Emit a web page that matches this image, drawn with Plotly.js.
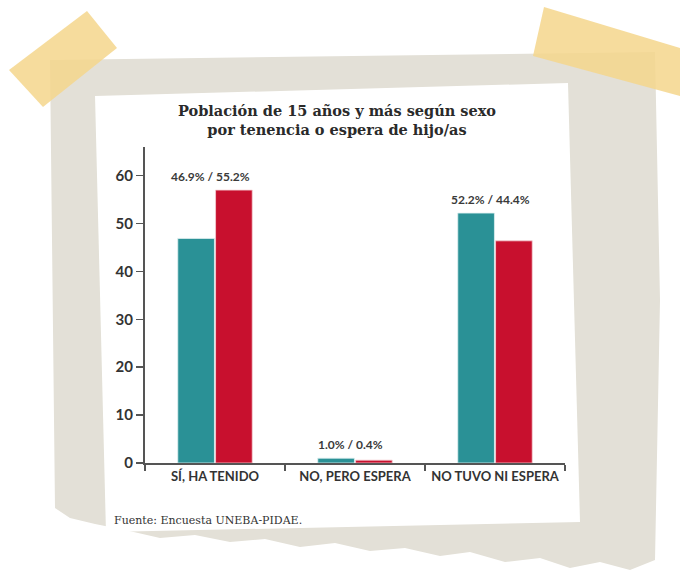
<!DOCTYPE html>
<html>
<head>
<meta charset="utf-8">
<script src="https://cdn.plot.ly/plotly-3.0.1.min.js"></script>
<style>html,body{margin:0;padding:0;background:#fff;}#chart{width:680px;height:582px;}</style>
</head>
<body>
<div id="chart"></div>
<script>
// ---- data ----
const categories = ["SÍ, HA TENIDO", "NO, PERO ESPERA", "NO TUVO NI ESPERA"];
const hombres = [46.9, 1.0, 52.2];      // teal bars (heights)
const mujeres = [57.0, 0.6, 46.4];      // red bars (heights)
const valueLabels = ["46.9% / 55.2%", "1.0% / 0.4%", "52.2% / 44.4%"];
const yTicks = [0, 10, 20, 30, 40, 50, 60];

// ---- geometry helpers (pixel -> paper) ----
const L = 145, T = 147, W = 420, H = 316;
const fx = x => (x - L) / W;
const fy = y => (T + H - y) / H;
const path = pts => pts.map((p, i) => (i ? "L" : "M") + fx(p[0]).toFixed(4) + "," + fy(p[1]).toFixed(4)).join(" ") + " Z";

const paperPts = [[50,60],[655,52],[660,300],[655,560],[630,570],[600,562],[570,568],[540,558],[505,562],[470,552],[440,556],[405,548],[370,551],[335,543],[300,547],[265,539],[230,542],[195,535],[160,538],[125,530],[95,524],[70,518],[55,508]];
const cardPts = [[95,96],[568,83],[580,522],[106,532]];
const tapeL = [[9,70],[87,11],[117,48],[43,107]];
const tapeR = [[544,7],[680,48],[680,96],[533,56]];

const shapes = [
  {type:"path", xref:"paper", yref:"paper", path:path(paperPts), fillcolor:"#e3e0d7", line:{width:0}, layer:"below"},
  {type:"path", xref:"paper", yref:"paper", path:path(cardPts), fillcolor:"#ffffff", line:{width:0}, layer:"below"},
  {type:"path", xref:"paper", yref:"paper", path:path(tapeL), fillcolor:"rgba(244,214,140,0.85)", line:{width:0}, layer:"below"},
  {type:"path", xref:"paper", yref:"paper", path:path(tapeR), fillcolor:"rgba(244,214,140,0.85)", line:{width:0}, layer:"below"}
];

const annotations = categories.map((c, i) => ({
  x: c, y: Math.max(hombres[i], mujeres[i]), xref:"x", yref:"y",
  text: valueLabels[i], showarrow:false, yanchor:"bottom", yshift: 4, xshift:-5,
  font:{family:"Lato", size:12, color:"#3a3a3a", weight:"bold"}
}));
annotations.push({
  xref:"paper", yref:"paper", x: fx(112), y: fy(520), xanchor:"left", yanchor:"middle",
  text:"Fuente: Encuesta UNEBA-PIDAE.", showarrow:false,
  font:{family:"DejaVu Serif", size:11, color:"#333"}
});

const traces = [
  {type:"bar", x:categories, y:hombres, name:"Hombres", marker:{color:"#2a9196", line:{color:"#dff0f0", width:0.8}}, hoverinfo:"skip"},
  {type:"bar", x:categories, y:mujeres, name:"Mujeres", marker:{color:"#c8102e", line:{color:"#f5d0d5", width:0.8}}, hoverinfo:"skip"}
];

const layout = {
  width:680, height:582,
  margin:{l:L, r:680-L-W, t:T, b:582-T-H, pad:0},
  paper_bgcolor:"#ffffff", plot_bgcolor:"rgba(0,0,0,0)",
  showlegend:false,
  barmode:"group", bargap:0.46, bargroupgap:0.03,
  title:{
    text:"<b>Población de 15 años y más según sexo<br>por tenencia o espera de hijo/as</b>",
    x: 337/680, xanchor:"center", y: 1 - 116/582, yanchor:"middle",
    font:{family:"DejaVu Serif", size:14.5, color:"#2a2a2a"}
  },
  xaxis:{
    type:"category", range:[-0.5, 2.5], showline:true, linecolor:"#555", linewidth:2,
    ticks:"outside", tickson:"boundaries", ticklen:6, tickwidth:1.5, tickcolor:"#555",
    showgrid:false, zeroline:false,
    tickfont:{family:"Lato", size:13, color:"#333", weight:"bold"}
  },
  yaxis:{
    range:[0, 66], tickvals:yTicks, ticks:"outside", ticklen:7, tickwidth:1.5, tickcolor:"#555",
    showline:true, linecolor:"#555", linewidth:2, showgrid:false, zeroline:false,
    tickfont:{family:"Lato", size:15, color:"#333", weight:"bold"}
  },
  shapes: shapes,
  annotations: annotations
};

Plotly.newPlot("chart", traces, layout, {staticPlot:true, displayModeBar:false});
</script>
</body>
</html>
